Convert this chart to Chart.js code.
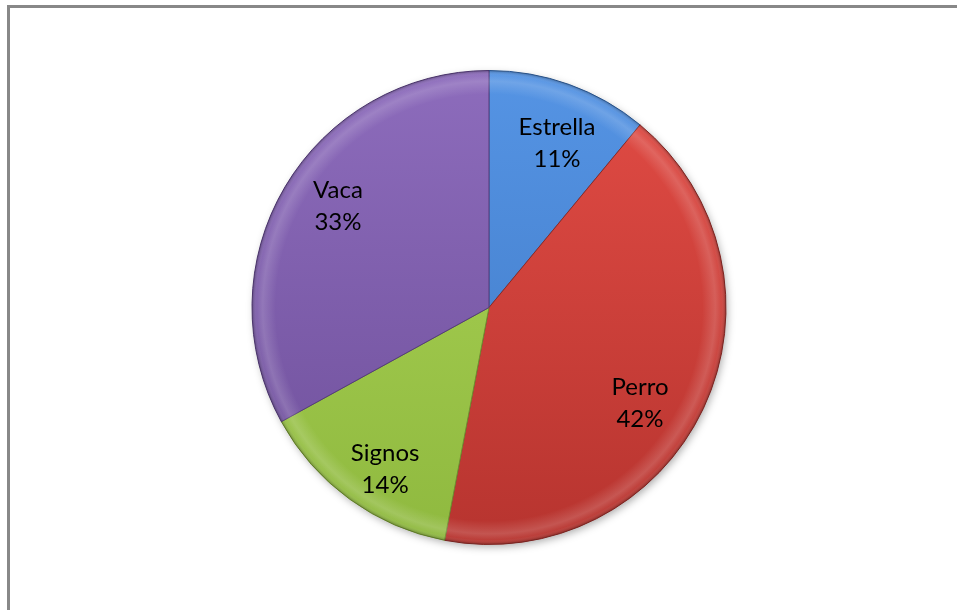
<!DOCTYPE html>
<html>
<head>
<meta charset="utf-8">
<script src="https://cdn.jsdelivr.net/npm/chart.js@4.4.1/dist/chart.umd.min.js"></script>
<style>
  html, body { margin: 0; padding: 0; background: #fff; }
  #wrap { width: 958px; height: 610px; position: relative; }
</style>
</head>
<body>
<div id="wrap"><canvas id="pie" width="958" height="610"></canvas></div>
<script>
// slice names and shares (percent)
const labels = ['Estrella', 'Perro', 'Signos', 'Vaca'];
const shares = [11, 42, 14, 33];
// light / dark shade for each slice (top -> bottom)
const topColors = ['#5594e4', '#e24c45', '#acd456', '#8d6cbc'];
const bottomColors = ['#3f78c4', '#b7342f', '#8fb93f', '#6e4f9a'];
const edgeColors = ['#2f5f9e', '#8e2a26', '#6f8f30', '#553c7a'];
// small nudges (px) so the labels sit where a best-fit layout puts them
const labelNudge = [[7, 5], [-12, 19], [2, 16], [4, -10]];

function sliceFill(context) {
  const chart = context.chart;
  const area = chart.chartArea;
  if (!area) return topColors[context.dataIndex];
  const g = chart.ctx.createLinearGradient(0, area.top, 0, area.bottom);
  g.addColorStop(0, topColors[context.dataIndex]);
  g.addColorStop(1, bottomColors[context.dataIndex]);
  return g;
}

// grey frame round the chart
const framePlugin = {
  id: 'frame',
  beforeDraw(chart) {
    const ctx = chart.ctx;
    ctx.save();
    ctx.fillStyle = '#ffffff';
    ctx.fillRect(0, 0, chart.width, chart.height);
    ctx.strokeStyle = '#888888';
    ctx.lineWidth = 3;
    ctx.beginPath();
    ctx.moveTo(8.5, chart.height + 5);
    ctx.lineTo(8.5, 6.5);
    ctx.lineTo(957, 6.5);
    ctx.stroke();
    ctx.restore();
  }
};

// soft shadow under the pie and a bevel ring on the rim
const bevelPlugin = {
  id: 'bevel',
  beforeDatasetsDraw(chart) {
    const arc = chart.getDatasetMeta(0).data[0];
    const ctx = chart.ctx;
    ctx.save();
    ctx.shadowColor = 'rgba(0,0,0,0.35)';
    ctx.shadowBlur = 8;
    ctx.shadowOffsetX = 2;
    ctx.shadowOffsetY = 3;
    ctx.fillStyle = '#999';
    ctx.beginPath();
    ctx.arc(arc.x, arc.y, arc.outerRadius - 1, 0, Math.PI * 2);
    ctx.fill();
    ctx.restore();
  },
  afterDatasetsDraw(chart) {
    const arc = chart.getDatasetMeta(0).data[0];
    const ctx = chart.ctx;
    const r = arc.outerRadius;
    ctx.save();
    const g = ctx.createRadialGradient(arc.x, arc.y, r * 0.9, arc.x, arc.y, r);
    g.addColorStop(0, 'rgba(255,255,255,0)');
    g.addColorStop(0.55, 'rgba(255,255,255,0.16)');
    g.addColorStop(0.8, 'rgba(255,255,255,0.05)');
    g.addColorStop(1, 'rgba(0,0,0,0.25)');
    ctx.fillStyle = g;
    ctx.beginPath();
    ctx.arc(arc.x, arc.y, r, 0, Math.PI * 2);
    ctx.arc(arc.x, arc.y, r * 0.9, 0, Math.PI * 2, true);
    ctx.fill();
    ctx.restore();
  }
};

// name and percent written inside each slice
const sliceLabelPlugin = {
  id: 'sliceLabels',
  afterDraw(chart) {
    const ctx = chart.ctx;
    const meta = chart.getDatasetMeta(0);
    ctx.save();
    ctx.font = '24px Lato, "Open Sans", sans-serif';
    ctx.fillStyle = '#000';
    ctx.textAlign = 'center';
    ctx.textBaseline = 'middle';
    meta.data.forEach((a, i) => {
      const mid = (a.startAngle + a.endAngle) / 2;
      const d = a.outerRadius * 0.76;
      const x = a.x + Math.cos(mid) * d + labelNudge[i][0];
      const y = a.y + Math.sin(mid) * d + labelNudge[i][1];
      ctx.fillText(labels[i], x, y - 16);
      ctx.fillText(shares[i] + '%', x, y + 16);
    });
    ctx.restore();
  }
};

new Chart(document.getElementById('pie'), {
  type: 'pie',
  data: {
    labels: labels,
    datasets: [{
      data: shares,
      backgroundColor: sliceFill,
      borderColor: edgeColors,
      borderWidth: 1
    }]
  },
  options: {
    responsive: false,
    animation: false,
    layout: { padding: { top: 70, bottom: 65, left: 20, right: 0 } },
    plugins: {
      legend: { display: false },
      tooltip: { enabled: false }
    }
  },
  plugins: [framePlugin, bevelPlugin, sliceLabelPlugin]
});
</script>
</body>
</html>
